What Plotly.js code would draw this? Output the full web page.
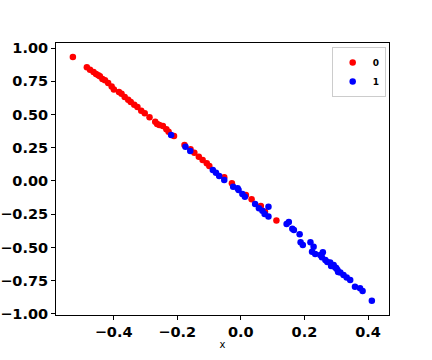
<!DOCTYPE html>
<html>
<head>
<meta charset="utf-8">
<script src="https://cdn.plot.ly/plotly-3.0.1.min.js"></script>
<style>body{margin:0;padding:0;background:#fff}</style>
</head>
<body>
<div id="myDiv" style="width:432px;height:360px"></div>
<script>
// class 0 (red)
var x0 = [-0.528, -0.484, -0.474, -0.463, -0.455, -0.448, -0.443, -0.435, -0.427, -0.417,
  -0.406, -0.399, -0.383, -0.375, -0.365, -0.354, -0.346, -0.335, -0.325, -0.313,
  -0.302, -0.287, -0.269, -0.263, -0.256, -0.245, -0.234, -0.227, -0.210, -0.177,
  -0.158, -0.146, -0.132, -0.120, -0.107, -0.099, -0.052, -0.028, 0.016, 0.034,
  0.063, 0.076, 0.112];
var y0 = [0.932, 0.855, 0.837, 0.820, 0.805, 0.795, 0.787, 0.767, 0.757, 0.737,
  0.711, 0.689, 0.669, 0.656, 0.632, 0.611, 0.594, 0.574, 0.556, 0.529,
  0.509, 0.479, 0.446, 0.429, 0.421, 0.414, 0.389, 0.371, 0.338, 0.271,
  0.238, 0.212, 0.183, 0.158, 0.133, 0.113, 0.028, -0.017, -0.105, -0.138,
  -0.188, -0.231, -0.298];

// class 1 (blue)
var x1 = [-0.219, -0.174, -0.159, -0.088, -0.078, -0.068, -0.052, -0.024, -0.010, -0.007,
  0.005, 0.013, 0.045, 0.057, 0.068, 0.075, 0.087, 0.087, 0.144, 0.151,
  0.162, 0.167, 0.185, 0.188, 0.195, 0.219, 0.229, 0.224, 0.234, 0.258,
  0.250, 0.255, 0.266, 0.272, 0.281, 0.284, 0.292, 0.297, 0.300, 0.304,
  0.306, 0.313, 0.323, 0.333, 0.344, 0.359, 0.375, 0.383, 0.412];
var y1 = [0.346, 0.258, 0.226, 0.083, 0.062, 0.038, 0.008, -0.043, -0.055, -0.068,
  -0.098, -0.118, -0.173, -0.205, -0.223, -0.248, -0.193, -0.268, -0.323, -0.308,
  -0.359, -0.368, -0.401, -0.461, -0.481, -0.461, -0.494, -0.532, -0.549, -0.536,
  -0.556, -0.574, -0.594, -0.609, -0.613, -0.639, -0.632, -0.650, -0.654, -0.669,
  -0.684, -0.688, -0.707, -0.726, -0.744, -0.795, -0.807, -0.827, -0.900];

var data = [
  {x: x0, y: y0, type: 'scatter', mode: 'markers', name: '0',
   marker: {color: 'red', size: 6.5}},
  {x: x1, y: y1, type: 'scatter', mode: 'markers', name: '1',
   marker: {color: 'blue', size: 6.5}}
];

var tickFont = {family: 'DejaVu Sans', size: 14.5, color: '#000', weight: 'bold'};

var layout = {
  width: 432,
  height: 360,
  margin: {l: 56, r: 43, t: 43, b: 45},
  paper_bgcolor: '#fff',
  plot_bgcolor: '#fff',
  showlegend: true,
  legend: {
    x: 0.99, y: 0.985, xanchor: 'right', yanchor: 'top',
    bordercolor: '#cccccc', borderwidth: 1,
    font: {family: 'DejaVu Sans', size: 9, color: '#000', weight: 'bold'},
    itemwidth: 30, tracegroupgap: 0
  },
  xaxis: {
    range: [-0.581, 0.466],
    dtick: 0.2, tick0: 0, tickformat: '.1f',
    showgrid: false, zeroline: false,
    showline: true, mirror: true, linecolor: '#000', linewidth: 1,
    ticks: 'outside', ticklen: 4, tickcolor: '#000',
    tickfont: tickFont,
    title: {text: 'x', font: {family: 'DejaVu Sans', size: 10, color: '#000'}, standoff: 1}
  },
  yaxis: {
    range: [-1.008, 1.038],
    dtick: 0.25, tick0: 0, tickformat: '.2f',
    showgrid: false, zeroline: false,
    showline: true, mirror: true, linecolor: '#000', linewidth: 1,
    ticks: 'outside', ticklen: 4, tickcolor: '#000',
    tickfont: tickFont
  }
};

var config = {displayModeBar: false, responsive: false};
Plotly.newPlot('myDiv', data, layout, config);
</script>
</body>
</html>
